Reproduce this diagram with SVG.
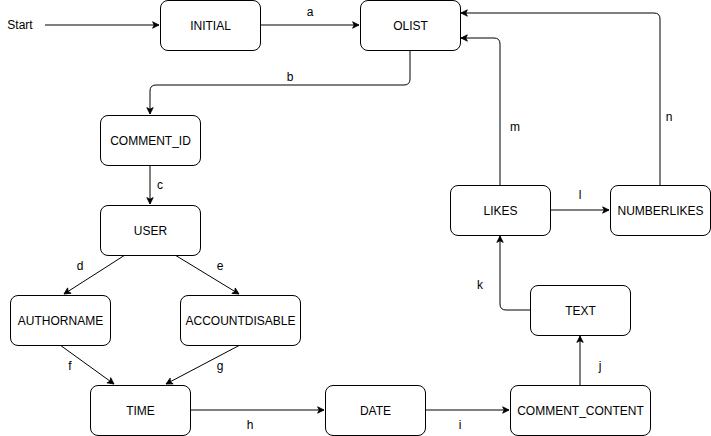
<svg xmlns="http://www.w3.org/2000/svg" width="711" height="436" viewBox="0 0 711 436">
<style>
.n rect{fill:#fff;stroke:#000;stroke-width:1}
text{font-family:"Liberation Sans",Arial,sans-serif;font-size:12px;fill:#000;text-anchor:middle;dominant-baseline:central}
.e path{fill:none;stroke:#000;stroke-width:1;marker-end:url(#ar)}
</style>
<defs>
<marker id="ar" viewBox="0 0 10 10" refX="9" refY="5" markerWidth="8" markerHeight="8" markerUnits="userSpaceOnUse" orient="auto">
<path d="M1,1 L9,5 L1,9 L3,5 Z" fill="#000" stroke="#000" stroke-width="1"/>
</marker>
</defs>
<rect width="711" height="436" fill="#fff"/>
<g class="e" id="connectors">
<path d="M45,25 H159"/>
<path d="M260,25 H359"/>
<path d="M410,50 V79 Q410,85 404,85 H156 Q150,85 150,91 V114"/>
<path d="M150,165 V204"/>
<path d="M125,255 L64,294"/>
<path d="M175,255 L239,294"/>
<path d="M60,345 L114,384"/>
<path d="M240,345 L166,384"/>
<path d="M190,410 H324"/>
<path d="M425,410 H509"/>
<path d="M580,385 V336"/>
<path d="M530,310 H506 Q500,310 500,304 V236"/>
<path d="M550,210 H609"/>
<path d="M500,185 V44 Q500,38 494,38 H461"/>
<path d="M660,185 V19 Q660,13 654,13 H461"/>
</g>
<g id="labels">
<text x="20" y="25">Start</text>
<text x="310" y="12">a</text>
<text x="290" y="77">b</text>
<text x="160" y="185">c</text>
<text x="80" y="266">d</text>
<text x="220" y="266">e</text>
<text x="70" y="366">f</text>
<text x="220" y="366">g</text>
<text x="250" y="425">h</text>
<text x="460" y="425">i</text>
<text x="600" y="366">j</text>
<text x="480" y="285">k</text>
<text x="580" y="195">l</text>
<text x="515" y="127">m</text>
<text x="669" y="117">n</text>
</g>
<g class="n" id="INITIAL"><rect x="160.5" y="0.5" width="100" height="50" rx="7.5"/><text x="210.5" y="25.5">INITIAL</text></g>
<g class="n" id="OLIST"><rect x="360.5" y="0.5" width="100" height="50" rx="7.5"/><text x="410.5" y="25.5">OLIST</text></g>
<g class="n" id="COMMENT_ID"><rect x="100.5" y="115.5" width="100" height="50" rx="7.5"/><text x="150.5" y="140.5">COMMENT_ID</text></g>
<g class="n" id="USER"><rect x="100.5" y="205.5" width="100" height="50" rx="7.5"/><text x="150.5" y="230.5">USER</text></g>
<g class="n" id="AUTHORNAME"><rect x="10.5" y="295.5" width="100" height="50" rx="7.5"/><text x="60.5" y="320.5">AUTHORNAME</text></g>
<g class="n" id="ACCOUNTDISABLE"><rect x="180.5" y="295.5" width="120" height="50" rx="7.5"/><text x="240.5" y="320.5">ACCOUNTDISABLE</text></g>
<g class="n" id="TIME"><rect x="90.5" y="385.5" width="100" height="50" rx="7.5"/><text x="140.5" y="410.5">TIME</text></g>
<g class="n" id="DATE"><rect x="325.5" y="385.5" width="100" height="50" rx="7.5"/><text x="375.5" y="410.5">DATE</text></g>
<g class="n" id="COMMENT_CONTENT"><rect x="510.5" y="385.5" width="140" height="50" rx="7.5"/><text x="580.5" y="410.5">COMMENT_CONTENT</text></g>
<g class="n" id="TEXT"><rect x="530.5" y="285.5" width="100" height="50" rx="7.5"/><text x="580.5" y="310.5">TEXT</text></g>
<g class="n" id="LIKES"><rect x="450.5" y="185.5" width="100" height="50" rx="7.5"/><text x="500.5" y="210.5">LIKES</text></g>
<g class="n" id="NUMBERLIKES"><rect x="610.5" y="185.5" width="100" height="50" rx="7.5"/><text x="660.5" y="210.5">NUMBERLIKES</text></g>
</svg>
